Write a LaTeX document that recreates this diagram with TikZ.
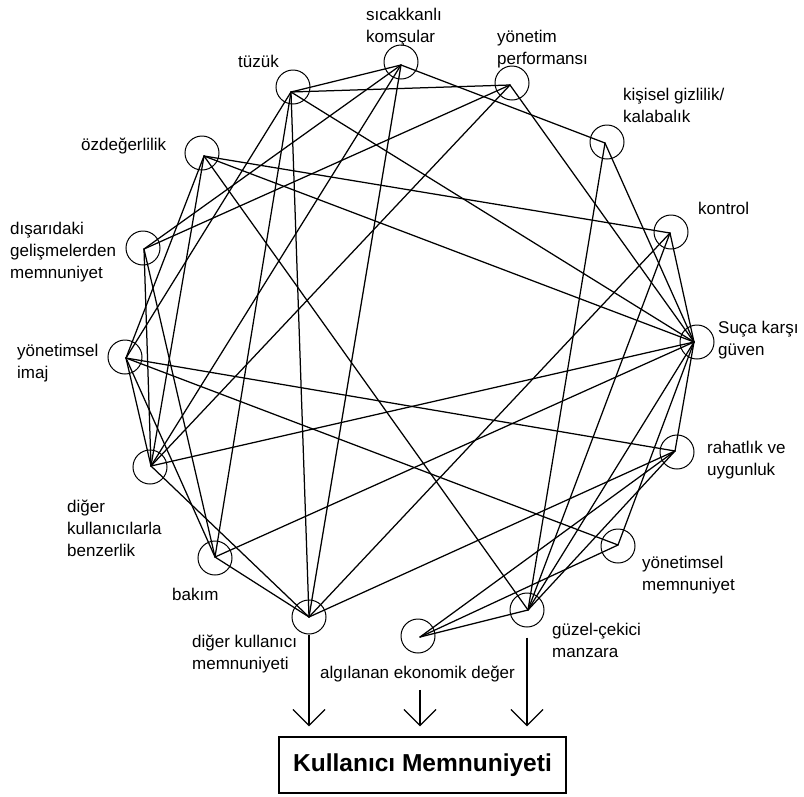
\documentclass[tikz,border=0pt]{standalone}
\usepackage{fontspec}
\setmainfont{Liberation Sans}
\usetikzlibrary{arrows.meta}
\begin{document}
\begin{tikzpicture}[x=1pt,y=-1pt,
  ring/.style={draw, circle, minimum size=34pt, inner sep=0pt, line width=1pt},
  link/.style={line width=1.25pt, line cap=round},
  lbl/.style={anchor=north west, inner sep=0pt, align=left,
              font=\fontsize{17}{22}\selectfont},
  feed/.style={line width=1.2pt, -{Straight Barb[length=16pt,width=32pt]}},
  resultbox/.style={draw, line width=1.4pt, minimum width=287pt, minimum height=56pt,
              inner sep=0pt, font=\bfseries\fontsize{24.5}{28}\selectfont}]
\useasboundingbox (0,0) rectangle (804,796);

% rings
\node[ring] (rT)  at (293,87)  {};
\node[ring] (rS)  at (401,62)  {};
\node[ring] (rP)  at (512,83)  {};
\node[ring] (rK)  at (607,142) {};
\node[ring] (rC)  at (671,232) {};
\node[ring] (rG)  at (697,342) {};
\node[ring] (rR)  at (677,452) {};
\node[ring] (rYM) at (618,546) {};
\node[ring] (rM)  at (527,610) {};
\node[ring] (rE)  at (418,636) {};
\node[ring] (rD)  at (309,617) {};
\node[ring] (rB)  at (215,558) {};
\node[ring] (rBZ) at (150,467) {};
\node[ring] (rYI) at (125,357) {};
\node[ring] (rDG) at (143,248) {};
\node[ring] (rO)  at (202,153) {};

% points where the links meet inside each ring
\coordinate (T)  at (291,92);
\coordinate (S)  at (401,65);
\coordinate (P)  at (510,85);
\coordinate (K)  at (605,143);
\coordinate (C)  at (670,233);
\coordinate (G)  at (694,342);
\coordinate (R)  at (675,451);
\coordinate (YM) at (618,545);
\coordinate (M)  at (528,610);
\coordinate (E)  at (420,637);
\coordinate (D)  at (309,617);
\coordinate (B)  at (215,557);
\coordinate (BZ) at (151,466);
\coordinate (YI) at (126,358);
\coordinate (DG) at (144,249);
\coordinate (O)  at (204,156);

% links
\foreach \a/\b in {T/S, T/P, T/G, T/D, T/B, T/YI,
                   S/K, S/D, S/BZ, S/DG,
                   P/G, P/DG, P/BZ,
                   K/G, K/M,
                   C/G, C/O, C/D, C/M,
                   O/G, O/M, O/BZ, O/YI,
                   DG/BZ, DG/B,
                   YI/R, YI/YM, YI/B, YI/BZ,
                   BZ/G, BZ/D,
                   B/G, B/D,
                   D/R,
                   R/G, YM/G, M/G, M/R,
                   M/E, E/R, E/YM}
  \draw[link] (\a) -- (\b);

% labels
\node[lbl] (lT)  at (238,54.6)  {tüzük};
\node[lbl] (lS)  at (366,8.3)   {sıcakkanlı\\komşular};
\node[lbl] (lP)  at (497,29.6)  {yönetim\\performansı};
\node[lbl] (lK)  at (623,87.6)  {kişisel gizlilik/\\kalabalık};
\node[lbl] (lC)  at (698,201.6) {kontrol};
\node[lbl] (lG)  at (718,320.6) {Suça karşı\\güven};
\node[lbl] (lR)  at (707,440.6) {rahatlık ve\\uygunluk};
\node[lbl] (lYM) at (642,555.6) {yönetimsel\\memnuniyet};
\node[lbl] (lM)  at (552,622.6) {güzel-çekici\\manzara};
\node[lbl] (lE)  at (320,665.3) {algılanan ekonomik değer};
\node[lbl] (lD)  at (192,634.3) {diğer kullanıcı\\memnuniyeti};
\node[lbl] (lB)  at (172,587.6) {bakım};
\node[lbl] (lBZ) at (67,499.6)  {diğer\\kullanıcılarla\\benzerlik};
\node[lbl] (lYI) at (17,343.6)  {yönetimsel\\imaj};
\node[lbl] (lDG) at (10,221.6)  {dışarıdaki\\gelişmelerden\\memnuniyet};
\node[lbl] (lO)  at (81,137.6)  {özdeğerlilik};

% outcome
\node[resultbox] (box) at (422.5,765) {Kullanıcı Memnuniyeti};
\coordinate (tipline) at ([yshift=10pt]box.north);
\coordinate (eStart) at ([yshift=-8pt]lE.south);

\draw[feed] (rD.south) -- (rD.south |- tipline);
\draw[feed] (E |- eStart) -- (E |- tipline);
\draw[feed] ([yshift=-10pt]rM.south) -- (rM.south |- tipline);
\end{tikzpicture}
\end{document}
